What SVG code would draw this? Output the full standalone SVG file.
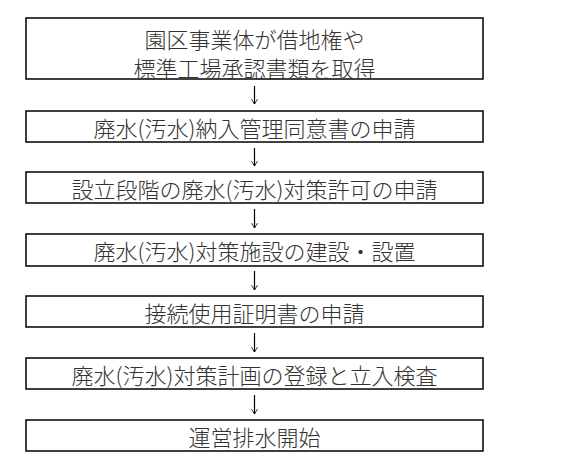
<svg xmlns="http://www.w3.org/2000/svg" width="566" height="475" viewBox="0 0 566 475">
<style>
.box{fill:#fff;stroke:#000;stroke-width:1.5}
.t{font-family:"Noto Sans CJK JP","Noto Sans CJK SC",sans-serif;font-size:22px;font-weight:300;fill:#333;text-anchor:middle;dominant-baseline:central}
.c{stroke:#000;stroke-width:1.2;fill:none}
</style>
<defs>
<marker id="ah" viewBox="0 0 10 10" refX="9" refY="5" markerWidth="6" markerHeight="7" markerUnits="userSpaceOnUse" orient="auto">
<path d="M1,0 L9,5 L1,10" fill="none" stroke="#000" stroke-width="1.4"/>
</marker>
</defs>
<rect width="566" height="475" fill="#fff"/>
<g id="connectors">
<line class="c" x1="254.5" y1="86" x2="254.5" y2="104" marker-end="url(#ah)"/>
<line class="c" x1="254.5" y1="148" x2="254.5" y2="166" marker-end="url(#ah)"/>
<line class="c" x1="254.5" y1="209" x2="254.5" y2="228" marker-end="url(#ah)"/>
<line class="c" x1="254.5" y1="271" x2="254.5" y2="290" marker-end="url(#ah)"/>
<line class="c" x1="254.5" y1="333" x2="254.5" y2="352" marker-end="url(#ah)"/>
<line class="c" x1="254.5" y1="395" x2="254.5" y2="414" marker-end="url(#ah)"/>
</g>
<g id="n1"><rect class="box" x="26" y="18" width="457" height="61"/><text class="t" x="254.5" y="38">園区事業体が借地権や</text><text class="t" x="254.5" y="67">標準工場承認書類を取得</text></g>
<g id="n2"><rect class="box" x="26" y="111" width="457" height="31"/><text class="t" x="254.5" y="127">廃水(汚水)納入管理同意書の申請</text></g>
<g id="n3"><rect class="box" x="26" y="172" width="457" height="31"/><text class="t" x="254.5" y="188">設立段階の廃水(汚水)対策許可の申請</text></g>
<g id="n4"><rect class="box" x="26" y="234" width="457" height="32"/><text class="t" x="254.5" y="250">廃水(汚水)対策施設の建設・設置</text></g>
<g id="n5"><rect class="box" x="26" y="296" width="457" height="31"/><text class="t" x="254.5" y="312">接続使用証明書の申請</text></g>
<g id="n6"><rect class="box" x="26" y="358" width="457" height="31"/><text class="t" x="254.5" y="374">廃水(汚水)対策計画の登録と立入検査</text></g>
<g id="n7"><rect class="box" x="26" y="420" width="457" height="31"/><text class="t" x="254.5" y="436">運営排水開始</text></g>
</svg>
